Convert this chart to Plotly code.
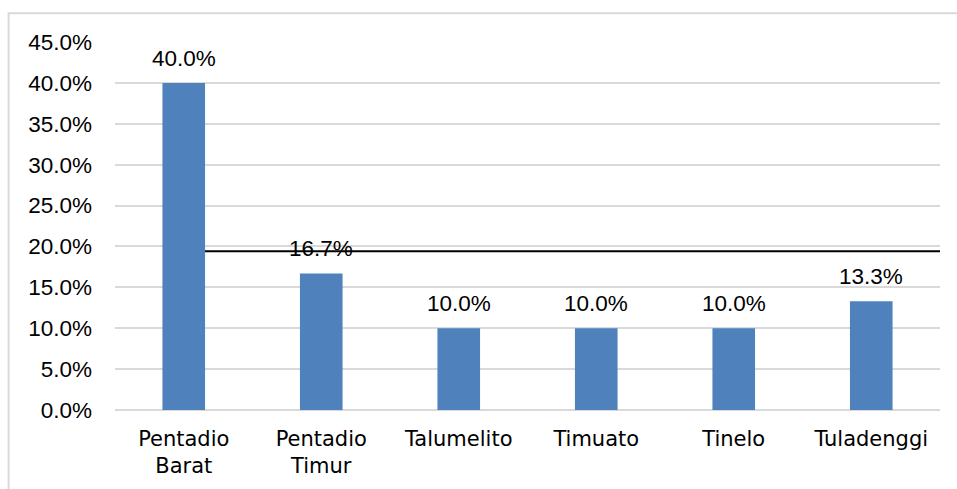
import plotly.graph_objects as go

# Share of respondents per village
categories = ["Pentadio<br>Barat", "Pentadio<br>Timur", "Talumelito", "Timuato", "Tinelo", "Tuladenggi"]
values = [40.0, 16.7, 10.0, 10.0, 10.0, 13.3]
reference_level = 19.4
y_ticks = [0, 5, 10, 15, 20, 25, 30, 35, 40, 45]
y_tick_labels = [f"{v:.1f}%" for v in y_ticks]

NUM_FONT = "Liberation Sans, Arial, sans-serif"
CAT_FONT = "DejaVu Sans, sans-serif"
NUM_SIZE = 22.5
x_idx = list(range(len(categories)))

fig = go.Figure()
fig.add_trace(go.Bar(
    x=x_idx,
    y=values,
    width=0.31,
    marker=dict(color="#4f81bd", line=dict(width=0)),
    hoverinfo="skip",
))

# value labels above each bar
for xi, v in zip(x_idx, values):
    fig.add_annotation(
        x=xi, y=v, text=f"{v:.1f}%", showarrow=False,
        yanchor="bottom", yshift=10,
        font=dict(family=NUM_FONT, size=NUM_SIZE, color="#000000"),
    )

# horizontal reference line
fig.add_shape(
    type="line", xref="x", yref="y",
    x0=0, x1=len(categories) - 0.5, y0=reference_level, y1=reference_level,
    line=dict(color="#000000", width=2), layer="below",
)

# chart-area frame
fig.add_shape(
    type="rect", xref="paper", yref="paper",
    x0=-0.129, x1=1.1, y0=-0.3, y1=1.078,
    line=dict(color="#d9d9d9", width=2), fillcolor="rgba(0,0,0,0)", layer="below",
)

fig.update_layout(
    width=957, height=489,
    margin=dict(l=115, r=17, t=42, b=79),
    paper_bgcolor="#ffffff", plot_bgcolor="#ffffff",
    showlegend=False,
    font=dict(family=NUM_FONT, color="#000000"),
    xaxis=dict(
        tickmode="array", tickvals=x_idx, ticktext=categories,
        range=[-0.5, len(categories) - 0.5],
        showgrid=False, zeroline=False, showline=False,
        tickfont=dict(family=CAT_FONT, size=21, color="#000000"),
        ticks="", ticklabelstandoff=14, fixedrange=True,
    ),
    yaxis=dict(
        range=[0, 45], tickmode="array", tickvals=y_ticks, ticktext=y_tick_labels,
        showgrid=True, gridcolor="#d9d9d9", gridwidth=2,
        zeroline=True, zerolinecolor="#d9d9d9", zerolinewidth=2,
        showline=False, ticks="",
        tickfont=dict(family=NUM_FONT, size=NUM_SIZE, color="#000000"),
        ticklabelstandoff=22, fixedrange=True,
    ),
)

fig.write_html("out.html")
